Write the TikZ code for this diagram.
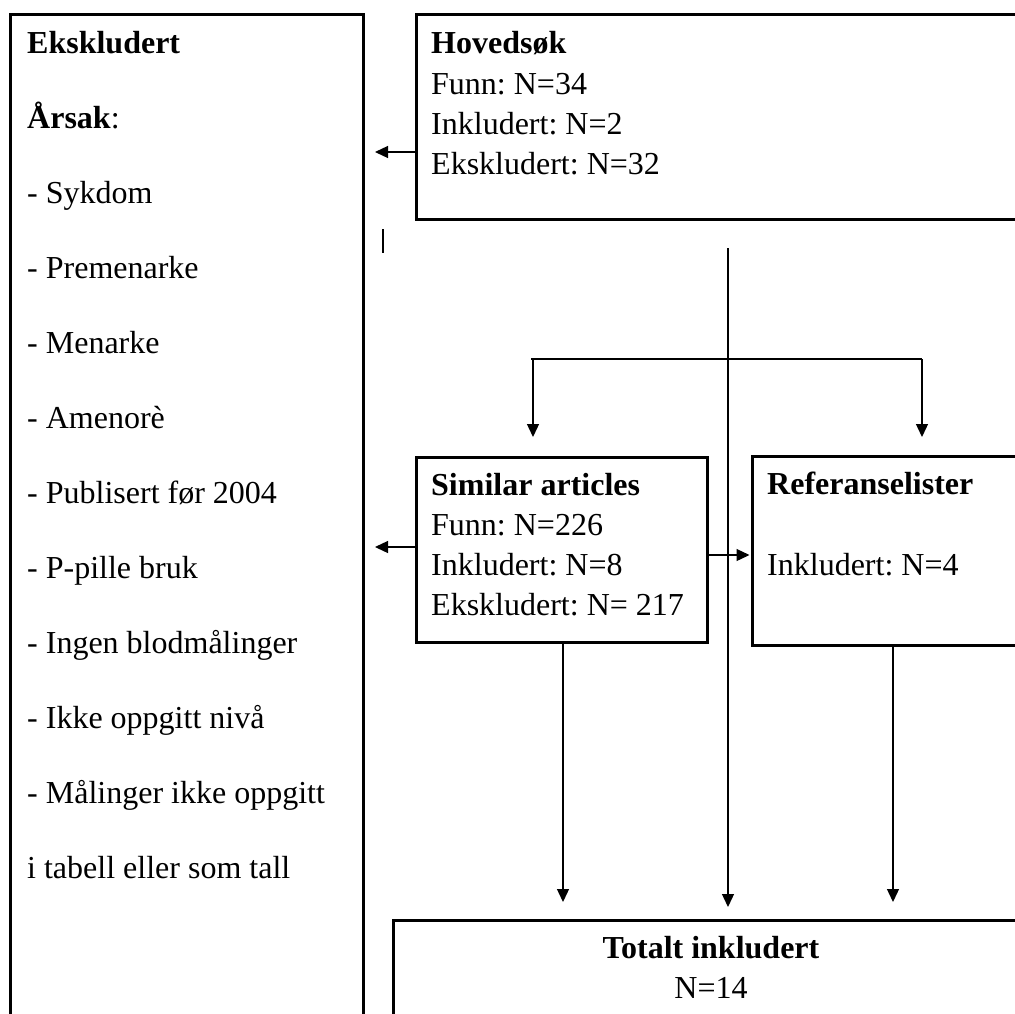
\documentclass[tikz,border=0pt]{standalone}
\usepackage{fontspec}
\setmainfont{Liberation Serif}
\frenchspacing
\usetikzlibrary{arrows.meta}
\tikzset{
  box/.style={draw, line width=2.7pt, inner sep=0pt, anchor=north west},
  txt/.style={inner sep=0pt, anchor=base west, font=\fontsize{32}{38}\selectfont},
  btxt/.style={inner sep=0pt, anchor=base west, font=\fontsize{32}{38}\selectfont\bfseries},
  ctxt/.style={inner sep=0pt, anchor=base, font=\fontsize{32}{38}\selectfont},
  cbtxt/.style={inner sep=0pt, anchor=base, font=\fontsize{32}{38}\selectfont\bfseries},
  conn/.style={line width=1.3pt},
  arr/.style={conn, -{Triangle[length=13pt,width=12pt]}},
}
\begin{document}
\frenchspacing
\begin{tikzpicture}[x=1pt,y=-1pt]
\useasboundingbox (0,0) rectangle (1015,1013);
\clip (0,0) rectangle (1015,1013);

% boxes
\node[box, minimum width=353pt, minimum height=1100pt] (exc) at (9,13) {};
\node[box, minimum width=700pt, minimum height=205pt] (hov) at (415,13) {};
\node[box, minimum width=291pt, minimum height=185pt] (sim) at (415,456) {};
\node[box, minimum width=400pt, minimum height=189pt] (ref) at (751,455) {};
\node[box, minimum width=638pt, minimum height=300pt] (tot) at (392,919) {};

% left box text
\node[btxt] (exc-0) at (27,53) {Ekskludert};
\node[txt] (exc-1) at (27,128) {\textbf{Årsak}:};
\foreach \t [count=\i from 2] in {{- Sykdom},{- Premenarke},{- Menarke},{- Amenorè},{- Publisert før 2004},{- P-pille bruk},{- Ingen blodmålinger},{- Ikke oppgitt nivå},{- Målinger ikke oppgitt},{i tabell eller som tall}}
  \node[txt] (exc-\i) at (27,{53+75*\i}) {\t};

% Hovedsok text
\node[btxt] (hov-0) at (431,53) {Hovedsøk};
\node[txt] (hov-1) at (431,94) {Funn: N=34};
\node[txt] (hov-2) at (431,134) {Inkludert: N=2};
\node[txt] (hov-3) at (431,174) {Ekskludert: N=32};

% Similar articles text
\node[btxt] (sim-0) at (431,495) {Similar articles};
\node[txt] (sim-1) at (431,535) {Funn: N=226};
\node[txt] (sim-2) at (431,575) {Inkludert: N=8};
\node[txt] (sim-3) at (431,615) {Ekskludert: N= 217};

% Referanselister text
\node[btxt] (ref-0) at (767,494) {Referanselister};
\node[txt] (ref-1) at (767,575) {Inkludert: N=4};

% Totalt text
\node[cbtxt] (tot-0) at (711,958) {Totalt inkludert};
\node[ctxt] (tot-1) at (711,998) {N=14};

% connectors
\coordinate (a1) at (375,152);
\draw[arr] (hov.west |- a1) -- (a1);
\coordinate (a2) at (375,547);
\draw[arr] (sim.west |- a2) -- (a2);
\coordinate (a3) at (0,555);
\draw[arr, shorten >=1.5pt] (sim.east |- a3) -- (ref.west |- a3);

\coordinate (tickA) at (383,229);
\coordinate (tickB) at (383,253);
\draw[conn] (tickA) -- (tickB);

\coordinate (ctop) at (728,248);
\draw[arr, shorten >=12pt] (ctop) -- (ctop |- tot.north);

\coordinate (hl) at (531,359);
\coordinate (hr) at (922,359);
\draw[conn] (hl) -- (hr);
\coordinate (dl) at (533,359);
\draw[arr, shorten >=19pt] (dl) -- (dl |- sim.north);
\draw[arr, shorten >=18pt] (hr) -- (hr |- ref.north);

\coordinate (sx) at (563,0);
\draw[arr, shorten >=17pt] (sim.south -| sx) -- (tot.north -| sx);
\coordinate (rx) at (893,0);
\draw[arr, shorten >=17pt] (ref.south -| rx) -- (tot.north -| rx);
\end{tikzpicture}
\end{document}
